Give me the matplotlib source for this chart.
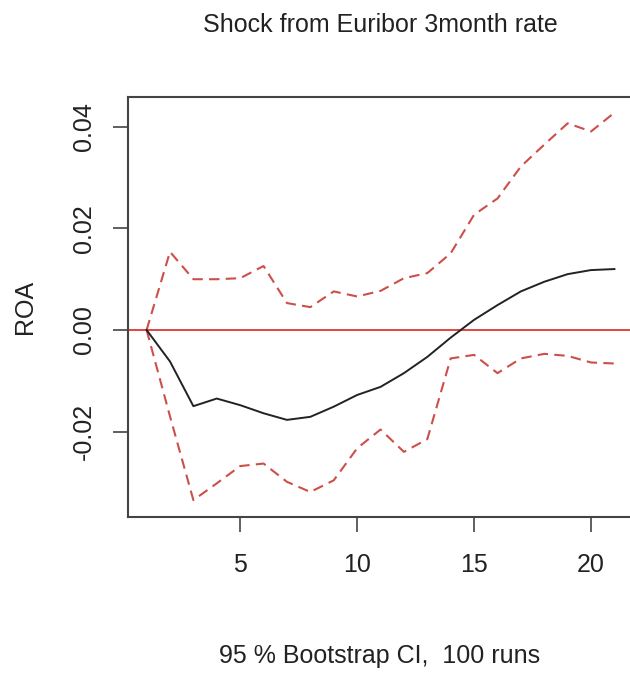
import matplotlib
matplotlib.use("Agg")
import matplotlib.pyplot as plt

plt.rcParams['font.family'] = ['Liberation Sans', 'DejaVu Sans']

# impulse response of ROA to a Euribor 3m shock, horizons 1..21
horizon = list(range(1, 22))
irf = [0.0, -0.0062, -0.0150, -0.0135, -0.0148, -0.0164, -0.0177, -0.0171, -0.0151, -0.0128,
       -0.0112, -0.0085, -0.0053, -0.0015, 0.0020, 0.0049, 0.0076, 0.0095, 0.0110, 0.0118, 0.0120]
upper = [0.0, 0.0154, 0.0100, 0.0100, 0.0102, 0.0126, 0.0053, 0.0045, 0.0076, 0.0066,
         0.0077, 0.0102, 0.0112, 0.0151, 0.0227, 0.0259, 0.0322, 0.0365, 0.0407, 0.0391, 0.0428]
lower = [0.0, -0.0170, -0.0335, -0.0302, -0.0268, -0.0263, -0.0299, -0.0319, -0.0296, -0.0233,
         -0.0196, -0.0240, -0.0215, -0.0056, -0.0049, -0.0085, -0.0056, -0.0047, -0.0051, -0.0064, -0.0066]

fig = plt.figure(figsize=(6.3, 6.73), dpi=100)
ax = fig.add_axes([0.203, 0.232, 0.802, 0.624])

ax.axhline(0, color='#e2453f', lw=1.4)
ax.plot(horizon, upper, color='#cc4f49', lw=1.5, dashes=(5, 3))
ax.plot(horizon, lower, color='#cc4f49', lw=1.5, dashes=(5, 3))
ax.plot(horizon, irf, color='#222222', lw=1.4)

ax.set_xlim(0.2, 21.8)
ax.set_ylim(-0.0368, 0.0459)
ax.set_xticks([5, 10, 15, 20])
ax.set_yticks([-0.02, 0.0, 0.02, 0.04])
ax.set_yticklabels(['-0.02', '0.00', '0.02', '0.04'], rotation=90, va='center')

for s in ax.spines.values():
    s.set_color('#444444')
    s.set_linewidth(1.5)
ax.tick_params(length=11, width=1.2, color='#444444', labelsize=18, labelcolor='#222222')
ax.tick_params(axis='x', pad=15)
ax.tick_params(axis='y', pad=12)

ax.set_ylabel('ROA', fontsize=18, labelpad=25, color='#222222')
fig.text(0.603, 0.963, 'Shock from Euribor 3month rate', ha='center', va='center',
         fontsize=18, color='#222222')
fig.text(0.603, 0.025, '95 % Bootstrap CI,  100 runs', ha='center', va='center',
         fontsize=18, color='#222222')

fig.savefig('out.png', dpi=100)
